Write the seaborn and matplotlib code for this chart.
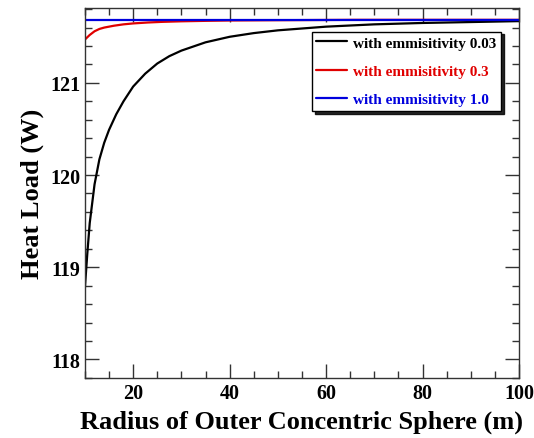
import pandas as pd
import matplotlib.pyplot as plt
import seaborn as sns

# values
radius_003 = [10, 10.5, 11, 12, 13, 14, 15, 16.5, 18, 20, 22.5, 25, 27.5, 30,
              35, 40, 45, 50, 60, 70, 80, 90, 100]
load_003 = [118.78, 119.15, 119.48, 119.90, 120.17, 120.35, 120.49, 120.66,
            120.80, 120.96, 121.10, 121.21, 121.29, 121.35, 121.44, 121.50,
            121.54, 121.57, 121.61, 121.635, 121.65, 121.66, 121.67]

radius_03 = [10, 11, 12, 13, 14, 16, 18, 20, 23, 26, 30, 35, 40, 50, 66, 80, 100]
load_03 = [121.47, 121.52, 121.56, 121.585, 121.60, 121.62, 121.635, 121.645,
           121.655, 121.662, 121.668, 121.673, 121.677, 121.680, 121.684,
           121.684, 121.684]

radius_10 = [10, 40, 70, 100]
load_10 = [121.686, 121.686, 121.686, 121.686]

labels = ['with emmisitivity 0.03', 'with emmisitivity 0.3', 'with emmisitivity 1.0']
colors = ['black', '#e00000', '#0000dd']

df = pd.concat([
    pd.DataFrame({'radius': radius_003, 'load': load_003, 'series': labels[0]}),
    pd.DataFrame({'radius': radius_03, 'load': load_03, 'series': labels[1]}),
    pd.DataFrame({'radius': radius_10, 'load': load_10, 'series': labels[2]}),
])

sns.set_theme(style="ticks")
plt.rcParams['font.family'] = ['Liberation Serif', 'DejaVu Serif']
plt.rcParams['font.weight'] = 'bold'
plt.rcParams['text.color'] = 'black'
plt.rcParams['axes.labelcolor'] = 'black'

fig = plt.figure(figsize=(5.34, 4.39), dpi=100)
ax = fig.add_axes([0.159, 0.137, 0.813, 0.842])

sns.lineplot(data=df, x='radius', y='load', hue='series', palette=colors,
             linewidth=1.6, ax=ax, sort=False, estimator=None)

ax.set_xlim(10, 100)
ax.set_ylim(117.91, 121.81)
ax.set_xticks([20, 40, 60, 80, 100])
ax.set_xticks(range(10, 101, 5), minor=True)
ax.set_yticks([118, 119, 120, 121])
ax.set_yticks([117.8 + 0.2 * i for i in range(21)], minor=True)
ax.set_yticklabels(['118', '119', '120', '121'])
ax.tick_params(which='both', direction='in', top=True, right=True,
               colors='#333333', labelcolor='black', labelsize=14.5)
ax.tick_params(which='major', length=10, width=1)
ax.tick_params(which='minor', length=5, width=1)
for lab in ax.get_xticklabels() + ax.get_yticklabels():
    lab.set_fontweight('bold')
for s in ax.spines.values():
    s.set_color('#333333')
    s.set_linewidth(1)

ax.set_xlabel('Radius of Outer Concentric Sphere (m)', fontsize=19,
              fontweight='bold', labelpad=5, color='black')
ax.set_ylabel('Heat Load (W)', fontsize=19, fontweight='bold', labelpad=4,
              color='black')

leg = ax.legend(loc='upper right', bbox_to_anchor=(0.958, 0.937), borderaxespad=0,
                fontsize=11, frameon=True, fancybox=False,
                shadow={'color': 'black', 'alpha': 0.85},
                labelcolor='linecolor', handlelength=2.0, handletextpad=0.4,
                borderpad=0.3, labelspacing=0.95, title=None)
leg.get_frame().set_edgecolor('black')
leg.get_frame().set_linewidth(1)
for t in leg.get_texts():
    t.set_fontweight('bold')

fig.savefig('out.png', dpi=100)
